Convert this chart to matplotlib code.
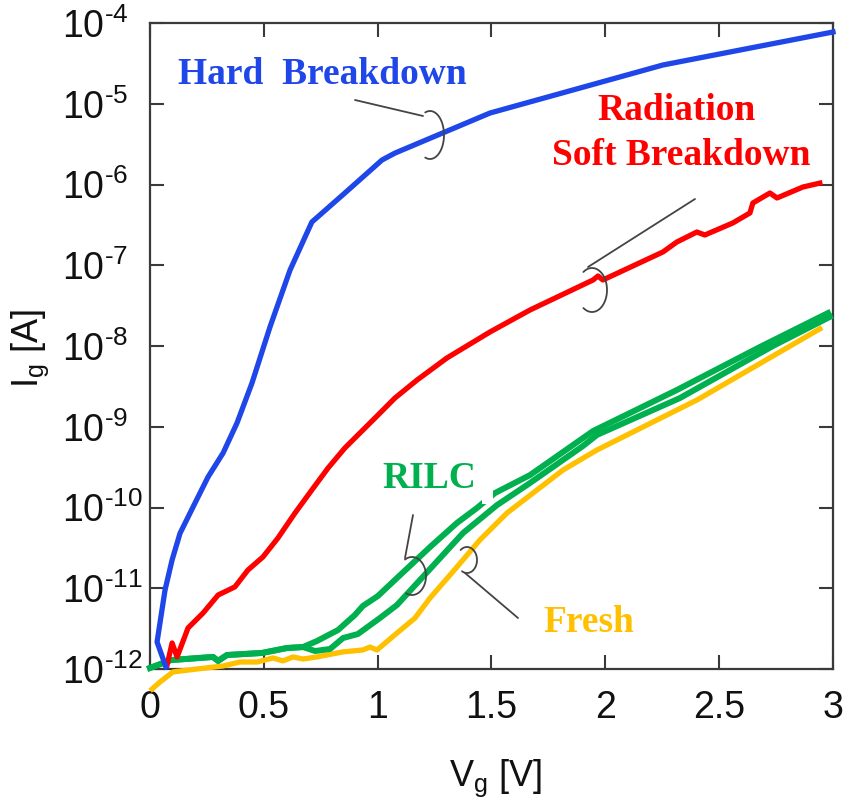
import numpy as np
import matplotlib
matplotlib.use("Agg")
import matplotlib.pyplot as plt
from matplotlib.ticker import LogLocator, NullLocator, FuncFormatter
from matplotlib.patches import Rectangle
from matplotlib.lines import Line2D

plt.rcParams['font.family'] = ['Liberation Sans', 'DejaVu Sans']
plt.rcParams['mathtext.fontset'] = 'custom'
plt.rcParams['mathtext.rm'] = 'Liberation Sans'
plt.rcParams['mathtext.it'] = 'Liberation Sans:italic'
plt.rcParams['mathtext.bf'] = 'Liberation Sans:bold'

# ---- gate leakage data: Vg [V], Ig [A] ----
vg_hard = [0.070, 0.031, 0.066, 0.097, 0.132, 0.198, 0.255, 0.321, 0.382, 0.448,
           0.527, 0.615, 0.711, 0.856, 1.019, 1.076, 1.493, 2.253, 3.0]
ig_hard = [1.06e-12, 2.16e-12, 9.5e-12, 2.24e-11, 4.8e-11, 1.14e-10, 2.39e-10, 4.73e-10,
           1.11e-9, 3.48e-9, 1.72e-8, 8.7e-8, 3.43e-7, 7.85e-7, 2.01e-6, 2.45e-6,
           7.67e-6, 3.02e-5, 7.74e-5]

vg_soft = [0.075, 0.097, 0.119, 0.167, 0.233, 0.299, 0.373, 0.430, 0.496, 0.562,
           0.637, 0.711, 0.782, 0.856, 0.988, 1.076, 1.173, 1.304, 1.493, 1.669,
           1.946, 1.968, 1.989, 2.253, 2.314, 2.402, 2.437, 2.560, 2.635, 2.648,
           2.723, 2.754, 2.868, 2.942]
ig_soft = [1.12e-12, 2.10e-12, 1.41e-12, 3.22e-12, 4.93e-12, 8.24e-12, 1.04e-11, 1.68e-11,
           2.44e-11, 4.19e-11, 8.55e-11, 1.65e-10, 3.08e-10, 5.46e-10, 1.28e-9, 2.27e-9,
           3.79e-9, 7.10e-9, 1.49e-8, 2.79e-8, 6.57e-8, 7.36e-8, 6.57e-8, 1.46e-7,
           1.94e-7, 2.58e-7, 2.37e-7, 3.34e-7, 4.44e-7, 5.90e-7, 7.85e-7, 6.81e-7,
           9.31e-7, 1.04e-6]

vg_rilc_a = [0.0, 0.092, 0.277, 0.299, 0.338, 0.492, 0.602, 0.672, 0.733, 0.826,
             0.900, 0.935, 1.001, 1.085, 1.230, 1.348, 1.436, 1.515, 1.669, 1.946,
             2.314, 2.679, 2.978]
ig_rilc_a = [1.03e-12, 1.29e-12, 1.41e-12, 1.26e-12, 1.49e-12, 1.58e-12, 1.82e-12, 1.87e-12,
             2.22e-12, 3.04e-12, 4.67e-12, 6.03e-12, 8.02e-12, 1.34e-11, 3.24e-11,
             6.43e-11, 9.86e-11, 1.51e-10, 2.52e-10, 8.85e-10, 2.85e-9, 9.72e-9, 2.56e-8]

vg_rilc_b = [0.0, 0.092, 0.277, 0.299, 0.338, 0.492, 0.602, 0.672, 0.725, 0.791,
             0.848, 0.913, 1.010, 1.085, 1.230, 1.375, 1.524, 1.669, 1.902, 1.963,
             2.328, 2.736, 2.986]
ig_rilc_b = [1.03e-12, 1.29e-12, 1.41e-12, 1.26e-12, 1.49e-12, 1.58e-12, 1.82e-12, 1.87e-12,
             1.67e-12, 1.77e-12, 2.42e-12, 2.71e-12, 4.28e-12, 6.21e-12, 1.73e-11,
             4.83e-11, 1.07e-10, 2.01e-10, 5.78e-10, 7.91e-10, 2.27e-9, 1.0e-8, 2.29e-8]

vg_fresh = [0.009, 0.044, 0.101, 0.206, 0.321, 0.395, 0.470, 0.540, 0.584, 0.628,
            0.672, 0.733, 0.848, 0.935, 0.966, 0.997, 1.085, 1.164, 1.230, 1.348,
            1.449, 1.568, 1.814, 1.963, 2.402, 2.942]
ig_fresh = [5.65e-13, 6.9e-13, 9.2e-13, 1.0e-12, 1.09e-12, 1.22e-12, 1.22e-12, 1.37e-12,
            1.26e-12, 1.41e-12, 1.33e-12, 1.41e-12, 1.63e-12, 1.72e-12, 1.87e-12,
            1.72e-12, 2.79e-12, 4.28e-12, 7.57e-12, 1.83e-11, 3.96e-11, 8.55e-11,
            2.91e-10, 5.15e-10, 2.14e-9, 1.63e-8]

xtick_values = [0, 0.5, 1, 1.5, 2, 2.5, 3]
xtick_labels = ['0', '0.5', '1', '1.5', '2', '2.5', '3']

C_BLUE = '#1f46e8'
C_RED = '#ff0000'
C_GREEN = '#00b04f'
C_GOLD = '#ffc000'
C_AXIS = '#3a3a3a'

W, H = 853, 798
fig = plt.figure(figsize=(W / 100, H / 100), dpi=100)
ax = fig.add_axes([150 / W, 1 - 669 / H, 683 / W, 646 / H])

ax.plot(vg_fresh, ig_fresh, color=C_GOLD, lw=3.8, clip_on=False, zorder=3,
        solid_joinstyle='round')
ax.plot(vg_rilc_b, ig_rilc_b, color=C_GREEN, lw=4.3, clip_on=False, zorder=4,
        solid_joinstyle='round')
ax.plot(vg_rilc_a, ig_rilc_a, color=C_GREEN, lw=4.3, clip_on=False, zorder=4,
        solid_joinstyle='round')
ax.plot(vg_soft, ig_soft, color=C_RED, lw=3.8, clip_on=False, zorder=5,
        solid_joinstyle='round')
ax.plot(vg_hard, ig_hard, color=C_BLUE, lw=3.8, clip_on=False, zorder=6,
        solid_joinstyle='round')

ax.set_yscale('log')
ax.set_ylim(1e-12, 1e-4)
ax.set_xlim(0, 3)
ax.yaxis.set_major_locator(LogLocator(base=10, numticks=20))
ax.yaxis.set_minor_locator(NullLocator())


def decade_label(v, pos):
    e = int(round(np.log10(v)))
    sign = '-' if e < 0 else ''
    return r'$10^{\text{%s%d}}$' % (sign, abs(e))


ax.yaxis.set_major_formatter(FuncFormatter(decade_label))
ax.set_xticks(xtick_values)
ax.set_xticklabels(xtick_labels)

for sp in ax.spines.values():
    sp.set_color(C_AXIS)
    sp.set_linewidth(1.6)
ax.tick_params(which='major', direction='in', top=True, right=True, length=10,
               width=1.5, color=C_AXIS, labelsize=27, labelcolor='#111111')
ax.tick_params(axis='x', pad=15)
# exponent labels share a common left edge
ax.tick_params(axis='y', pad=63)
for t in ax.get_yticklabels():
    t.set_horizontalalignment('left')


def fx(x):
    return x / W


def fy(y):
    return 1 - y / H


# axis titles
fig.text(fx(30), fy(348), 'I$_{\\mathregular{g}}$ [A]', rotation=90, fontsize=26,
         ha='center', va='center', color='#111111')
fig.text(fx(496), fy(786), 'V$_{\\mathregular{g}}$ [V]', fontsize=26,
         ha='center', va='baseline', color='#111111')

# curve labels
lab = dict(family='Liberation Serif', weight='bold', fontsize=27)
fig.text(fx(178), fy(84), 'Hard  Breakdown', color=C_BLUE, ha='left', va='baseline', **lab)
fig.text(fx(677), fy(120), 'Radiation', color=C_RED, ha='center', va='baseline', **lab)
fig.text(fx(681), fy(165), 'Soft Breakdown', color=C_RED, ha='center', va='baseline', **lab)
fig.text(fx(382), fy(488), 'RILC', color=C_GREEN, ha='left', va='baseline', **lab)
fig.text(fx(543), fy(632), 'Fresh', color=C_GOLD, ha='left', va='baseline', **lab)

# white notch across the upper RILC trace
fig.add_artist(Rectangle((fx(482), fy(504)), 11 / W, 19 / H, transform=fig.transFigure,
                         facecolor='white', edgecolor='none', zorder=5))


def callout(p0, p1, center, rx, ry, t0, t1):
    t = np.radians(np.linspace(t0, t1, 60))
    cx = center[0] + rx * np.cos(t)
    cy = center[1] - ry * np.sin(t)
    kw = dict(transform=fig.transFigure, color='#444444', lw=1.3, zorder=6,
              solid_capstyle='round')
    fig.add_artist(Line2D([fx(p0[0]), fx(p1[0])], [fy(p0[1]), fy(p1[1])], **kw))
    fig.add_artist(Line2D(fx(cx), fy(cy), **kw))


callout((355, 100), (423, 116), (430, 135), 14, 24, 110, -110)
callout((695, 199), (588, 267), (592, 290), 15, 22, 125, -125)
callout((413, 515), (405, 558), (412, 576), 14, 19, 120, -115)
callout((518, 618), (465, 573), (467, 560), 10, 13, 130, -120)

fig.savefig('out.png', dpi=100, facecolor='white')
